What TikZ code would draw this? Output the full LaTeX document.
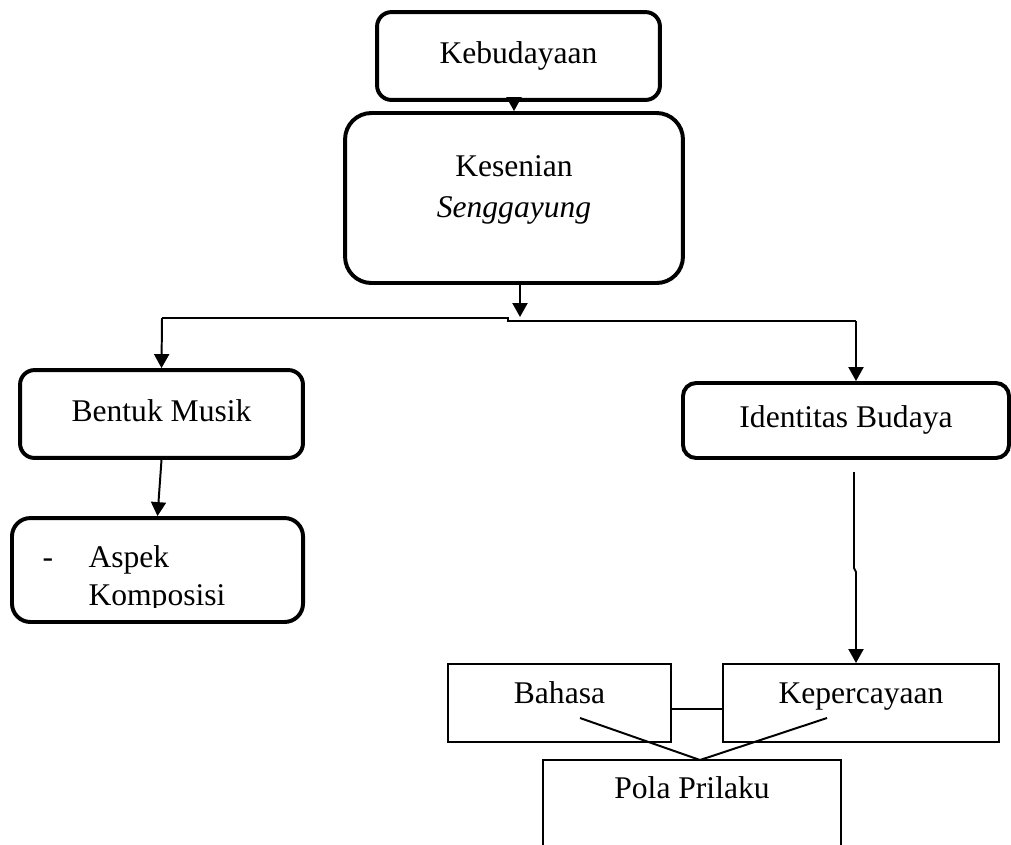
\documentclass[tikz,border=0pt]{standalone}
\usepackage{fontspec}
\setmainfont{Liberation Serif}
\usetikzlibrary{arrows.meta}

\begin{document}
\begin{tikzpicture}[x=0.38pt, y=-0.38pt, font=\fontsize{12}{14.5}\selectfont]
    \tikzstyle{block} = [rectangle, draw, line width=1.5pt, rounded corners=5.5pt, text height=8.4pt, text depth=3pt]
    \tikzstyle{plain} = [rectangle, draw, line width=0.8pt, text height=8.4pt, text depth=8.4pt]
    \tikzstyle{line} = [draw, line width=0.75pt, -{Triangle[width=5.7pt, length=5.3pt]}]
    \tikzstyle{link} = [draw, line width=0.75pt]

    \useasboundingbox (0,0) rectangle (1011,844);
    \clip (0,0) rectangle (1011,844);

    \node [block, minimum width=107.5pt, minimum height=33.4pt] (keb) at (518.5,56) {Kebudayaan};
    \node [block, minimum width=128.4pt, minimum height=64.6pt, rounded corners=10pt] (kes) at (514,198) {};
    \node [align=center] (kestxt) at (514,190) {Kesenian\\[1pt]\textit{Senggayung}};
    \node [block, minimum width=107.5pt, minimum height=33.4pt] (bentuk) at (161.5,414) {Bentuk Musik};
    \node [block, minimum width=110.6pt, minimum height=39.5pt, rounded corners=7pt] (aspek) at (157.5,570) {};
    \begin{scope}
        \clip (12,518) rectangle (303,607);
        \node [anchor=base west, inner sep=0pt] (aspektxt) at (42,567)
            {\begin{tabular}[t]{@{}p{17.5pt}@{}l@{}}-&Aspek\\&Komposisi\end{tabular}};
    \end{scope}
    \node [block, minimum width=123.9pt, minimum height=28.5pt, rounded corners=5pt] (ident) at (846,420.5) {Identitas Budaya};
    \node [plain, minimum width=84.7pt, minimum height=29.6pt] (bahasa) at (559.5,703) {Bahasa};
    \node [plain, minimum width=104.9pt, minimum height=29.6pt] (kep) at (861,703) {Kepercayaan};
    \node [plain, minimum width=113.2pt, minimum height=45.6pt, text depth=25pt] (pola) at (692,820) {Pola Prilaku};

    % split under Kesenian
    \coordinate (ksplit) at (520,317);
    \coordinate (jl) at (162,318);
    \coordinate (jm) at (508,318);
    \coordinate (jr) at (856,321);
    % line down from Identitas Budaya
    \coordinate (ia) at (854,472);
    \coordinate (ib) at (854,568);
    \coordinate (ic) at (856,572);
    % lines to Pola Prilaku
    \coordinate (vb) at (580,718);
    \coordinate (vk) at (827,718);
    \coordinate (vtip) at (700,760);

    \path [line] (kes.north |- keb.south) -- (kes.north);
    \path [line] (kes.south -| ksplit) -- (ksplit);
    \path [link] (jl) -- (jm) -- (jm |- jr) -- (jr);
    \path [line] (jl) -- (bentuk.north);
    \path [line] (jr) -- (jr |- ident.north);
    \path [line] (bentuk.south) -- (aspek.north);
    \path [line] (ia) -- (ib) -- (ic) -- (ic |- kep.north);
    \path [link] (bahasa.east |- 0,709) -- (kep.west |- 0,709);
    \path [link] (vb) -- (vtip) -- (vk);
\end{tikzpicture}
\end{document}
